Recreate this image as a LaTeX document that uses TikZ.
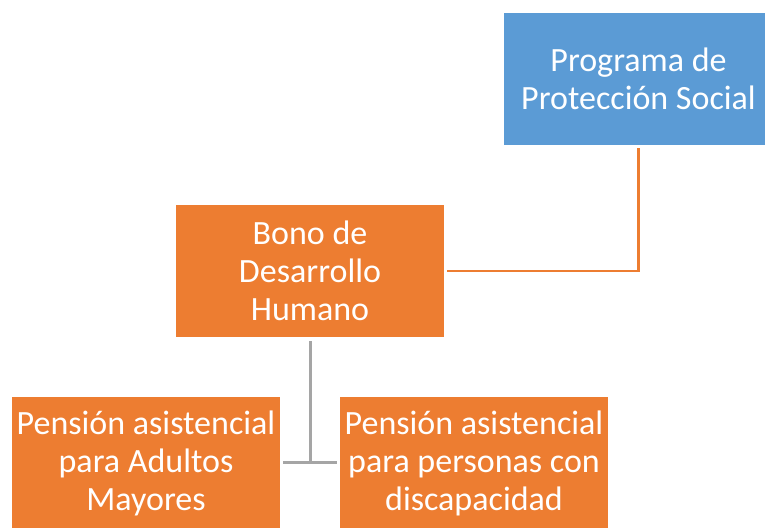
\documentclass[tikz,border=0pt]{standalone}
\usepackage{fontspec}
\setmainfont{Carlito}
\usetikzlibrary{positioning}
\definecolor{azul}{HTML}{5B9BD5}
\definecolor{naranja}{HTML}{ED7D31}
\definecolor{gris}{HTML}{A5A5A5}

\begin{document}
\begin{tikzpicture}[x=1pt,y=-1pt,thick,
  caja/.style={rectangle,fill=naranja,text=white,minimum width=268pt,minimum height=132pt,
    align=center,font=\fontsize{34}{38}\selectfont,inner sep=0pt},
  cajaazul/.style={caja,fill=azul,minimum width=269pt},
  lazo/.style={draw=naranja,line width=2.5pt},
  lazogris/.style={draw=gris,line width=3pt}]
  \useasboundingbox (0,0) rectangle (765,527);
  \begin{scope}
  \clip (0,0) rectangle (765,527);
  \node[cajaazul] (prog) at (638.5,79) {Programa de\\Protección Social};
  \node[caja] (bono) at (310,271) {Bono de\\Desarrollo\\Humano};
  \node[caja] (adultos) at (146,463) {Pensión asistencial\\para Adultos\\Mayores};
  \node[caja] (disc) at (474,463) {Pensión asistencial\\para personas con\\discapacidad};
  \end{scope}
  \path[lazo] ([yshift=-3pt]prog.south) |- ([xshift=3pt]bono.east);
  \path[lazogris] ([yshift=-4pt]bono.south) |- ([xshift=3pt,yshift=1pt]adultos.east);
  \path[lazogris] ([yshift=-4pt]bono.south) |- ([xshift=-3pt,yshift=1pt]disc.west);
\end{tikzpicture}
\end{document}
